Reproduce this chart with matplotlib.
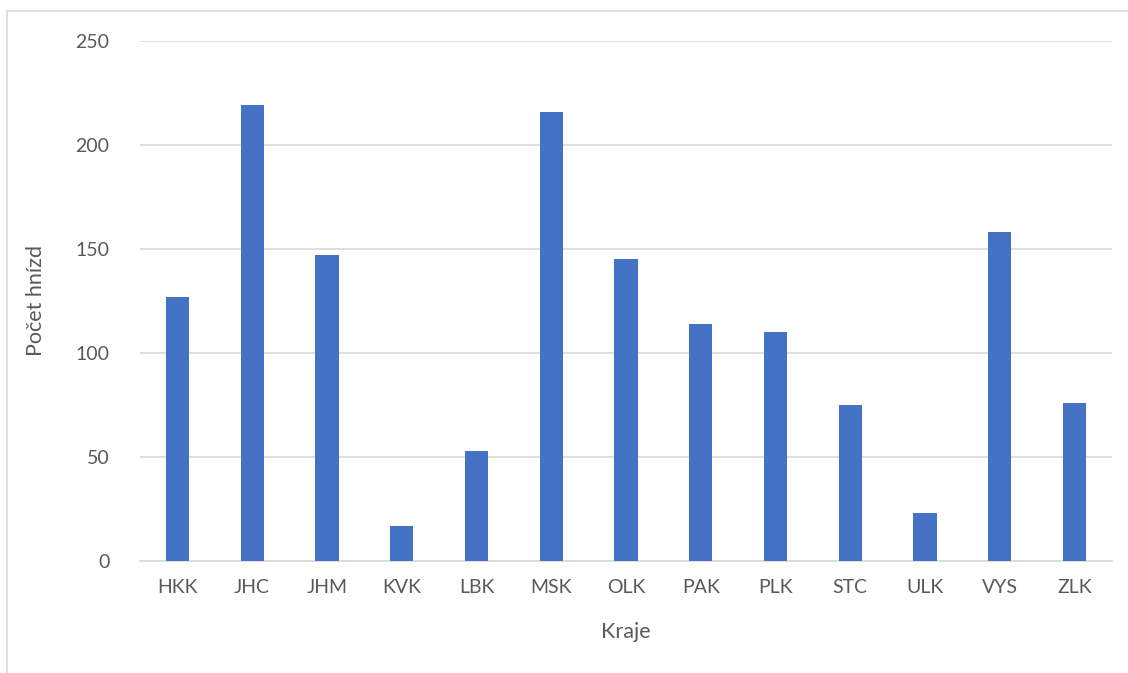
import matplotlib
matplotlib.use("Agg")
from matplotlib import pyplot as plt
from matplotlib.patches import Rectangle

W, H = 1128, 673

kraje = ["HKK", "JHC", "JHM", "KVK", "LBK", "MSK", "OLK",
         "PAK", "PLK", "STC", "ULK", "VYS", "ZLK"]
hnizda = [127, 219, 147, 17, 53, 216, 145, 114, 110, 75, 23, 158, 76]
y_ticks = [0, 50, 100, 150, 200, 250]

plt.rcParams['font.family'] = ['Lato', 'DejaVu Sans']
TEXT = '#595959'

fig = plt.figure(figsize=(W / 100, H / 100), dpi=100)
# chart area border (cropped at right and bottom)
fig.patches.append(Rectangle((7 / W, -0.1), 1.2, 1 - 11 / H + 0.1,
                             transform=fig.transFigure, fill=False,
                             edgecolor='#d9d9d9', linewidth=1.2))

ax = fig.add_axes([140 / W, 1 - 561 / H, (1112 - 140) / W, (561 - 41) / H])
x = range(len(kraje))
ax.bar(x, hnizda, width=0.31, color='#4472c4', zorder=3)

ax.set_xlim(-0.5, len(kraje) - 0.5)
ax.set_ylim(0, 250)
ax.set_yticks(y_ticks)
ax.set_xticks(list(x))
ax.set_xticklabels(kraje)
ax.grid(axis='y', color='#d9d9d9', linewidth=1.2, zorder=0)
for s in ['top', 'right', 'left']:
    ax.spines[s].set_visible(False)
ax.spines['bottom'].set_color('#d9d9d9')
ax.spines['bottom'].set_linewidth(1.2)
ax.tick_params(axis='both', length=0, labelsize=14, colors=TEXT)
ax.tick_params(axis='y', pad=22)
ax.tick_params(axis='x', pad=13)

ax.set_xlabel("Kraje", fontsize=15.5, color=TEXT, labelpad=19)
ax.set_ylabel("Počet hnízd", fontsize=15.5, color=TEXT, labelpad=21)

fig.savefig("out.png", dpi=100)
